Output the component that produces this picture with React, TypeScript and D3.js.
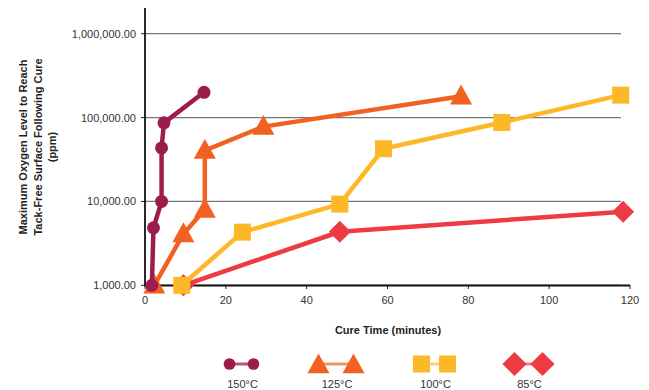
import React from "react";
import * as d3 from "d3";

// Cure time (minutes) and max oxygen level (ppm) for each cure temperature
const series150x = [1.7, 2.1, 4.1, 4.1, 4.7, 14.6];
const series150y = [1000, 4850, 10000, 43500, 86500, 200000];
const series125x = [2.3, 9.5, 14.8, 14.8, 29.3, 78.2];
const series125y = [1000, 4100, 8000, 40500, 78000, 180000];
const series100x = [9.1, 24.1, 48.2, 59.0, 88.3, 117.7];
const series100y = [1000, 4300, 9300, 42500, 87500, 185000];
const series85x = [9.5, 48.2, 118.3];
const series85y = [1000, 4350, 7550];

const seriesNames = ["150°C", "125°C", "100°C", "85°C"];
const seriesColors = ["#9c1c4e", "#f26122", "#fdb827", "#ee3a43"];
const legendLineColors = ["#c2507a", "#f69460", "#fdd27a", "#f47a80"];
const markerShapes = ["circle", "triangle", "square", "diamond"];

const xTicks = [0, 20, 40, 60, 80, 100, 120];
const yTicks = [1000, 10000, 100000, 1000000];

const W = 649;
const H = 390;

const x = d3.scaleLinear().domain([0, 120]).range([145, 630]);
const y = d3.scaleLog().domain([1000, 1000000]).range([285.3, 33.7]);

function marker(shape: string, cx: number, cy: number, color: string, key: string | number, scale = 1) {
  if (shape === "circle") {
    return <circle key={key} cx={cx} cy={cy} r={6.5 * scale} fill={color} />;
  }
  if (shape === "triangle") {
    const s = 11 * scale;
    const p = `${cx},${cy - s * 1.05} ${cx + s},${cy + s * 0.75} ${cx - s},${cy + s * 0.75}`;
    return <polygon key={key} points={p} fill={color} />;
  }
  if (shape === "square") {
    const s = 8.5 * scale;
    return <rect key={key} x={cx - s} y={cy - s} width={2 * s} height={2 * s} fill={color} />;
  }
  const s = 11 * scale;
  const p = `${cx},${cy - s} ${cx + s},${cy} ${cx},${cy + s} ${cx - s},${cy}`;
  return <polygon key={key} points={p} fill={color} />;
}

export default function App() {
  const allX = [series150x, series125x, series100x, series85x];
  const allY = [series150y, series125y, series100y, series85y];
  const line = d3
    .line<[number, number]>()
    .x((d) => x(d[0]))
    .y((d) => y(d[1]));

  // draw order: 85, 100, 125, 150 (150°C on top)
  const order = [3, 2, 1, 0];
  const font = "'Liberation Sans', Arial, sans-serif";
  const legendCenters = [241.5, 336, 434.5, 528.5];
  const legendHalf = [12, 17.5, 13, 14];

  return (
    <svg width={W} height={H} style={{ position: "absolute", left: 0, top: 0 }} fontFamily={font}>
      <rect width={W} height={H} fill="#fff" />
      {/* gridlines */}
      {yTicks.map((t) => (
        <line key={"g" + t} x1={145} x2={621} y1={y(t)} y2={y(t)} stroke="#777" strokeWidth={1.2} />
      ))}
      {/* y tick marks and labels */}
      {yTicks.map((t) => (
        <g key={"yt" + t}>
          <line x1={141} x2={145} y1={y(t)} y2={y(t)} stroke="#222" strokeWidth={1} />
          <text x={136} y={y(t) + 4} textAnchor="end" fontSize={11} fill="#333">
            {d3.format(",.2f")(t)}
          </text>
        </g>
      ))}
      {/* x tick marks and labels */}
      {xTicks.map((t) => (
        <g key={"xt" + t}>
          <line x1={x(t)} x2={x(t)} y1={285} y2={289} stroke="#222" strokeWidth={1} />
          <text x={x(t)} y={304} textAnchor="middle" fontSize={11} fill="#333">
            {t}
          </text>
        </g>
      ))}
      {/* axes */}
      <line x1={145} x2={145} y1={8} y2={286} stroke="#111" strokeWidth={1.8} />
      <line x1={144} x2={630} y1={285.5} y2={285.5} stroke="#111" strokeWidth={1.8} />

      {/* series */}
      {order.map((i) => {
        const pts: [number, number][] = allX[i].map((v, j) => [v, allY[i][j]]);
        return (
          <g key={"s" + i}>
            <path d={line(pts) || ""} fill="none" stroke={seriesColors[i]} strokeWidth={4.5} strokeLinejoin="round" />
            {pts.map((p, j) => marker(markerShapes[i], x(p[0]), y(p[1]), seriesColors[i], j))}
          </g>
        );
      })}

      {/* axis titles */}
      <text x={388} y={334} textAnchor="middle" fontSize={11} fontWeight="bold" fill="#222">
        Cure Time (minutes)
      </text>
      <text transform="translate(27,147) rotate(-90)" textAnchor="middle" fontSize={11} fontWeight="bold" fill="#222">
        <tspan x={0} dy={0}>Maximum Oxygen Level to Reach</tspan>
        <tspan x={0} dy={14.5}>Tack-Free Surface Following Cure</tspan>
        <tspan x={0} dy={14.5}>(ppm)</tspan>
      </text>

      {/* legend */}
      {seriesNames.map((name, i) => {
        const cx = legendCenters[i];
        const h = legendHalf[i];
        const cy = 364;
        return (
          <g key={"l" + i}>
            <line x1={cx - h} x2={cx + h} y1={cy} y2={cy} stroke={legendLineColors[i]} strokeWidth={3} />
            {marker(markerShapes[i], cx - h, cy + (i === 1 ? 1 : 0), seriesColors[i], "a", i === 0 ? 0.9 : i === 3 ? 1.1 : 1)}
            {marker(markerShapes[i], cx + h, cy + (i === 1 ? 1 : 0), seriesColors[i], "b", i === 0 ? 0.9 : i === 3 ? 1.1 : 1)}
            <text x={cx + 1} y={388} textAnchor="middle" fontSize={11} fill="#333">
              {name}
            </text>
          </g>
        );
      })}
    </svg>
  );
}
